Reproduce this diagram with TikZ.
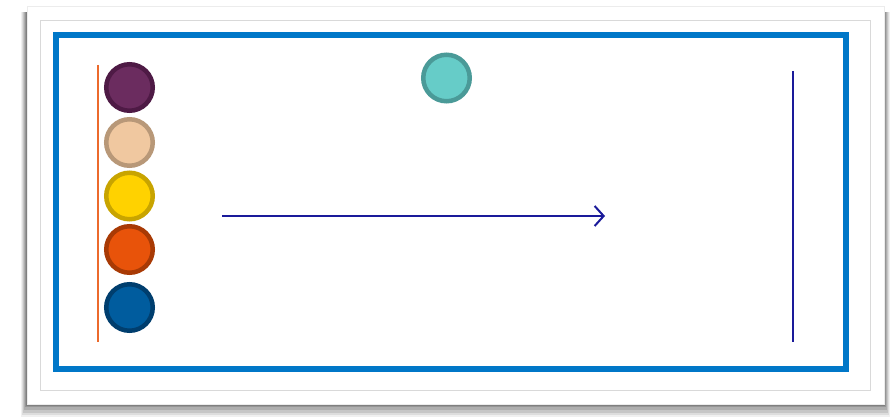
\documentclass[tikz,border=0pt]{standalone}
\usetikzlibrary{arrows.meta}
\definecolor{frameblue}{HTML}{0077C8}
\definecolor{navy}{HTML}{1A1A9A}
\definecolor{rulerorange}{HTML}{EC6A2C}
\definecolor{plumfill}{HTML}{6B2C5F}\definecolor{plumline}{HTML}{4E1A45}
\definecolor{tanfill}{HTML}{F0C8A0}\definecolor{tanline}{HTML}{B89878}
\definecolor{sunfill}{HTML}{FFD200}\definecolor{sunline}{HTML}{C8A400}
\definecolor{rustfill}{HTML}{E8530A}\definecolor{rustline}{HTML}{A83A05}
\definecolor{deepfill}{HTML}{005C9E}\definecolor{deepline}{HTML}{003E6E}
\definecolor{tealfill}{HTML}{66CCC8}\definecolor{tealline}{HTML}{4A9A98}
\tikzset{
  dot/.style={circle, minimum size=46.5pt, inner sep=0pt, line width=4.5pt},
  navyline/.style={draw=navy, line width=2pt},
}
\begin{document}
\begin{tikzpicture}[x=1pt, y=-1pt]
\useasboundingbox (0,0) rectangle (895,417);
% soft shadow under the card
\foreach \d/\o in {8/0.06,6.5/0.08,5/0.10,3.5/0.12,2/0.14,1/0.15}{
  \fill[black, opacity=\o] (27-\d*0.8,12) rectangle (884+\d*0.8,404+\d*1.7);
}
% card and inner frames
\fill[white] (27,6) rectangle (884,404);
\draw[gray!15, line width=0.6pt] (27,6) rectangle (884,404);
\draw[gray!30, line width=0.8pt] (40,20) rectangle (870,390);
\draw[frameblue, line width=6pt] (56,35) rectangle (846,369);
% vertical guides
\coordinate (rt) at (98,65);
\coordinate (rb) at (98,342);
\draw[rulerorange, line width=2pt] (rt) -- (rb);
\coordinate (vt) at (793,71);
\coordinate (vb) at (793,342);
\draw[navyline] (vt) -- (vb);
% coloured dots
\node[dot, fill=plumfill, draw=plumline] (c1) at (129.5,87.5) {};
\node[dot, fill=tanfill, draw=tanline] (c2) at (129.5,142.5) {};
\node[dot, fill=sunfill, draw=sunline] (c3) at (129.5,196) {};
\node[dot, fill=rustfill, draw=rustline] (c4) at (129.5,249.5) {};
\node[dot, fill=deepfill, draw=deepline] (c5) at (129.5,307.5) {};
\node[dot, fill=tealfill, draw=tealline] (t) at (446.5,78) {};
% arrow
\coordinate (as) at (222,216);
\coordinate (ae) at (605,216);
\draw[navyline, -{Straight Barb[length=9pt, width=20pt, line width=2pt]}] (as) -- (ae);
\end{tikzpicture}
\end{document}
